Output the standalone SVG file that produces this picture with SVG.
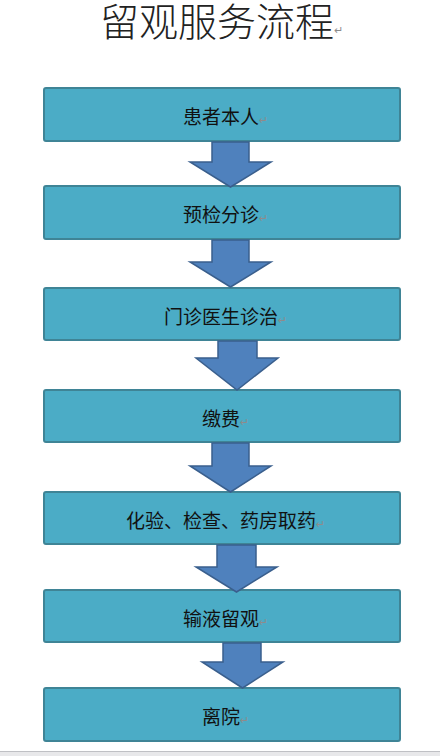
<svg xmlns="http://www.w3.org/2000/svg" width="440" height="756" viewBox="0 0 440 756">
<style>
.box{fill:#4bacc6;stroke:#3f8496;stroke-width:2}
.lbl{font-family:"Noto Sans CJK SC","Noto Sans",sans-serif;font-size:19px;fill:#111;text-anchor:middle}
.pm{font-family:"DejaVu Sans",sans-serif;font-size:11px;fill:#8c8c8c}
.arr{fill:#4f81bd;stroke:#3a5f8d;stroke-width:1.5;stroke-linejoin:miter}
</style>
<rect width="440" height="756" fill="#fff"/>
<text x="100" y="36" style="font-family:'Liberation Sans','Noto Sans CJK SC',sans-serif;font-size:39px;fill:#222;font-weight:300">留观服务流程<tspan class="pm" dy="-2">↵</tspan></text>
<g id="n1"><rect class="box" x="44" y="88" width="356" height="53" rx="2"/><text class="lbl" x="225.5" y="124">患者本人<tspan class="pm">↵</tspan></text></g>
<g id="n2"><rect class="box" x="44" y="186" width="356" height="53" rx="2"/><text class="lbl" x="225.5" y="222">预检分诊<tspan class="pm">↵</tspan></text></g>
<g id="n3"><rect class="box" x="44" y="288" width="356" height="52" rx="2"/><text class="lbl" x="225.5" y="324">门诊医生诊治<tspan class="pm">↵</tspan></text></g>
<g id="n4"><rect class="box" x="44" y="390" width="356" height="52" rx="2"/><text class="lbl" x="225.5" y="426">缴费<tspan class="pm">↵</tspan></text></g>
<g id="n5"><rect class="box" x="44" y="492" width="356" height="52" rx="2"/><text class="lbl" x="225.5" y="528">化验、检查、药房取药<tspan class="pm">↵</tspan></text></g>
<g id="n6"><rect class="box" x="44" y="590" width="356" height="52" rx="2"/><text class="lbl" x="225.5" y="626">输液留观<tspan class="pm">↵</tspan></text></g>
<g id="n7"><rect class="box" x="44" y="688" width="356" height="53" rx="2"/><text class="lbl" x="225.5" y="724">离院<tspan class="pm">↵</tspan></text></g>
<g id="connectors">
<path class="arr" d="M212,142 H249 V162 H271 L230.5,187 L190,162 H212 Z"/>
<path class="arr" d="M212,240 H249 V262 H271 L230.5,287 L190,262 H212 Z"/>
<path class="arr" d="M218,341 H257 V358 H278 L237,390 L196,358 H218 Z"/>
<path class="arr" d="M212,443 H249 V466 H271 L230.5,492 L190,466 H212 Z"/>
<path class="arr" d="M217,545 H256 V567 H277 L236.5,592 L196,567 H217 Z"/>
<path class="arr" d="M223,643 H261 V662 H283 L242.5,688 L202,662 H223 Z"/>
</g>
<rect x="0" y="751" width="440" height="1" fill="#bfc0c4"/>
<rect x="0" y="752" width="440" height="4" fill="#e8e8ea"/>
</svg>
